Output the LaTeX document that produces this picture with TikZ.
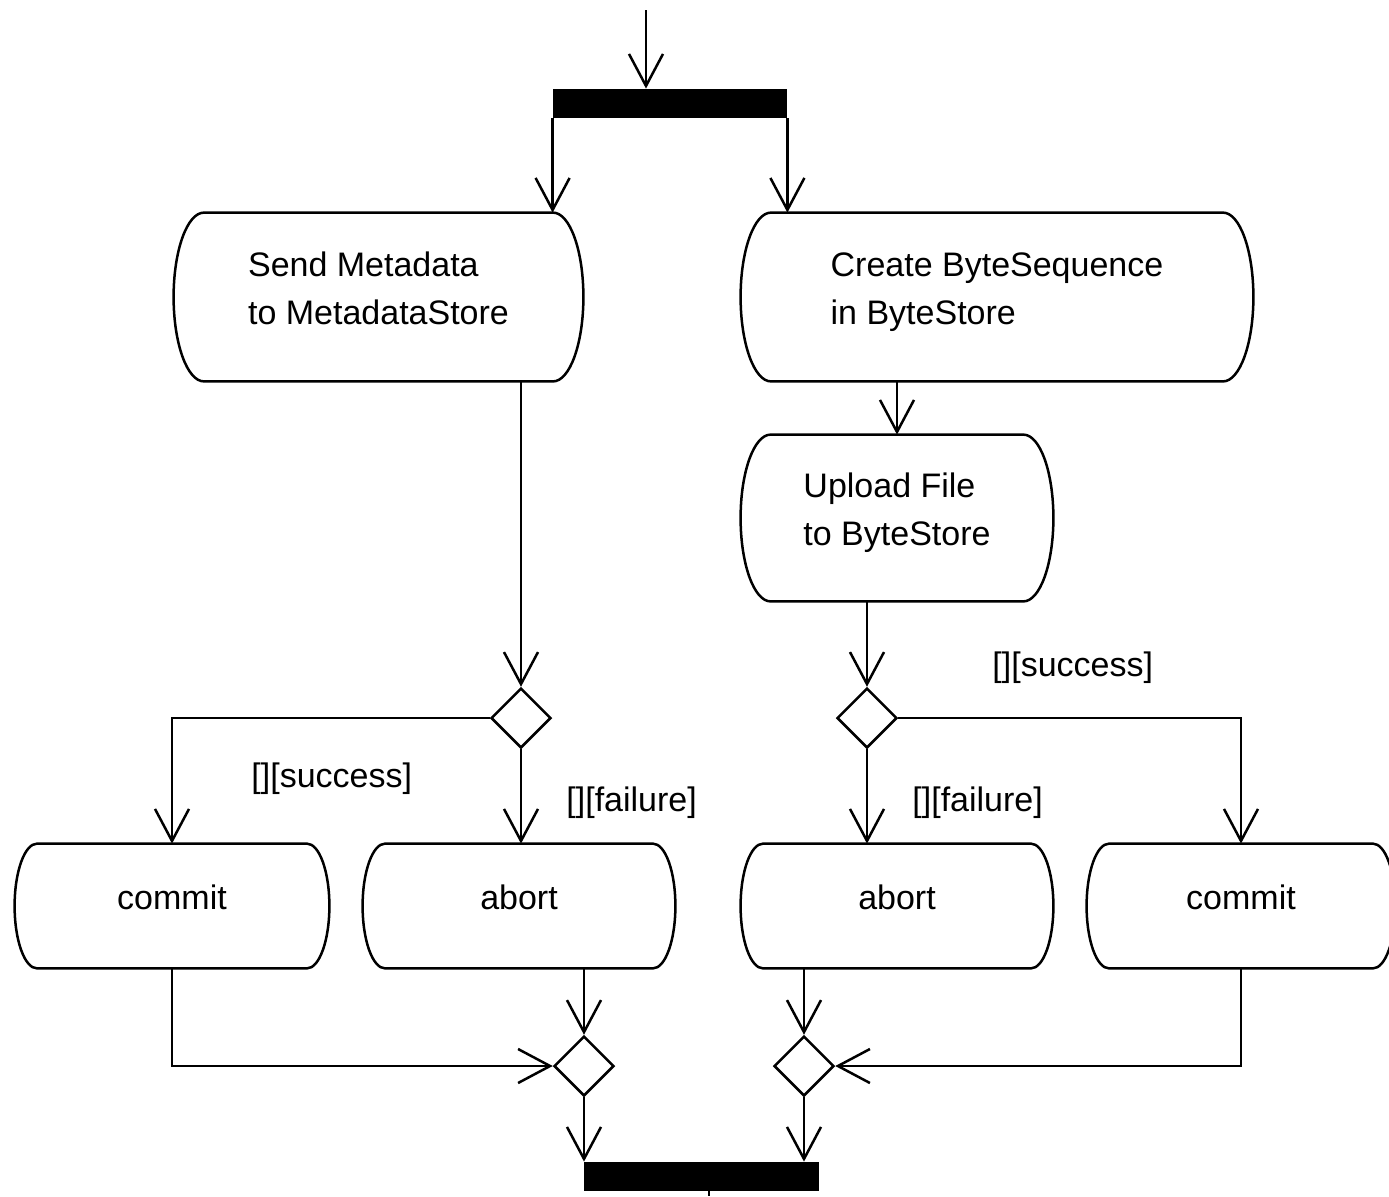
\documentclass[tikz,border=0pt]{standalone}
\usepackage{fontspec}
\setmainfont{Liberation Sans}
\usetikzlibrary{arrows.meta,shapes.geometric,calc}

\tikzset{
  line/.style={line width=1.25pt, line join=miter},
  flow/.style={line, -{Straight Barb[length=16pt,width=17pt,line width=1.25pt]}},
  action/.style={shape=rectangle, inner sep=0pt,
    font=\fontsize{17pt}{24pt}\selectfont, text height=12pt, text depth=9pt},
  twoline/.style={text height=12pt, text depth=33pt},
  decision/.style={diamond, draw, line, minimum width=30pt, minimum height=30pt, inner sep=0pt},
  bar/.style={rectangle, fill=black, draw=none, inner sep=0pt, minimum height=14.5pt},
  guard/.style={font=\fontsize{17pt}{24pt}\selectfont, inner sep=0pt, anchor=base west},
}

% two left-aligned lines, baseline on the first one
\newcommand\twolines[2]{\begin{tabular}[t]{@{}l@{}}#1\\#2\end{tabular}}

% outline of an action node: straight top and bottom, half-elliptic sides
\newcommand\actionoutline[1]{%
  \draw[line] let \p1=(#1.north west), \p2=(#1.south east),
      \n1={0.5*(\y1-\y2)}, \n2={0.36*\n1} in
    ({\x1+\n2},\y1) -- ({\x2-\n2},\y1)
    arc[start angle=90, end angle=-90, x radius={\n2*1pt}, y radius={\n1*1pt}]
    -- ({\x1+\n2},\y2)
    arc[start angle=270, end angle=90, x radius={\n2*1pt}, y radius={\n1*1pt}]
    -- cycle;}

\begin{document}
\begin{tikzpicture}[x=0.5pt, y=-0.5pt]
  \path[use as bounding box, clip] (0,0) rectangle (1389,1196);

  % fork and join bars
  \coordinate (start) at (646,10);
  \node[bar, minimum width=117pt] (fork) at (670,103.5) {};
  \node[bar, minimum width=117.5pt] (join) at (701.5,1176.5) {};
  \coordinate (end) at (709,1196);

  % actions
  \node[action, twoline, minimum width=204.5pt, minimum height=84pt] (meta) at (378.5,297)
    {\twolines{Send Metadata}{to MetadataStore}};
  \node[action, twoline, minimum width=256pt, minimum height=84pt] (create) at (997,297)
    {\twolines{Create ByteSequence}{in ByteStore}};
  \node[action, twoline, minimum width=156pt, minimum height=83pt] (upload) at (897,518)
    {\twolines{Upload File}{to ByteStore}};
  \node[action, minimum width=157pt, minimum height=62pt] (commitL) at (172,906) {commit};
  \node[action, minimum width=156pt, minimum height=62pt] (abortL) at (519,906) {abort};
  \node[action, minimum width=156pt, minimum height=62pt] (abortR) at (897,906) {abort};
  \node[action, minimum width=154pt, minimum height=62pt] (commitR) at (1241,906) {commit};

  \actionoutline{meta}
  \actionoutline{create}
  \actionoutline{upload}
  \actionoutline{commitL}
  \actionoutline{abortL}
  \actionoutline{abortR}
  \actionoutline{commitR}

  % decisions and merges
  \node[decision] (decL) at (521,718) {};
  \node[decision] (decR) at (867,718) {};
  \node[decision] (mrgL) at (584,1066) {};
  \node[decision] (mrgR) at (804,1066) {};

  % guards
  \node[guard] (succL) at (251,787) {[][success]};
  \node[guard] (failL) at (566,811) {[][failure]};
  \node[guard] (failR) at (912,811) {[][failure]};
  \node[guard] (succR) at (992,676) {[][success]};

  % control flow
  \draw[flow] (start) -- (start |- fork.north);
  \draw[flow] (fork.south west) -- (fork.south west |- meta.north);
  \draw[flow] (fork.south east) -- (fork.south east |- create.north);
  \draw[flow] (upload.north |- create.south) -- (upload.north);

  \draw[flow] (meta.south -| decL) -- (decL.north);
  \draw[flow] (upload.south -| decR) -- (decR.north);

  \draw[flow] (decL.west) -| (commitL.north);
  \draw[flow] (decL.south) -- (decL.south |- abortL.north);
  \draw[flow] (decR.east) -| (commitR.north);
  \draw[flow] (decR.south) -- (decR.south |- abortR.north);

  \draw[flow] (abortL.south -| mrgL) -- (mrgL.north);
  \draw[flow] (commitL.south) |- (mrgL.west);
  \draw[flow] (abortR.south -| mrgR) -- (mrgR.north);
  \draw[flow] (commitR.south) |- (mrgR.east);

  \draw[flow] (mrgL.south) -- (mrgL.south |- join.north);
  \draw[flow] (mrgR.south) -- (mrgR.south |- join.north);
  \draw[line] (join.south -| end) -- (end);
\end{tikzpicture}
\end{document}
